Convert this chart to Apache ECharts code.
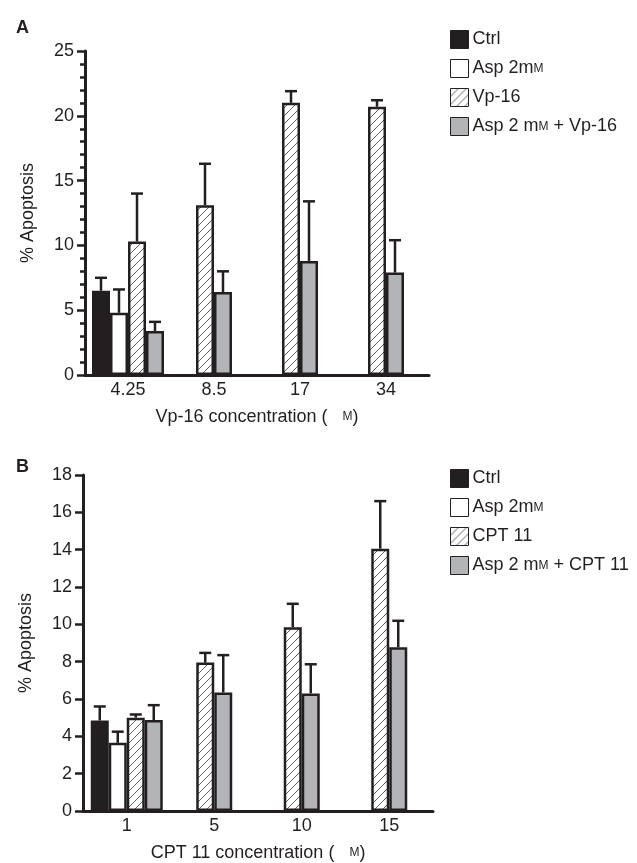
<!DOCTYPE html>
<html>
<head>
<meta charset="utf-8">
<script src="https://cdn.jsdelivr.net/npm/echarts@6/dist/echarts.min.js"></script>
<style>
  html, body { margin: 0; padding: 0; background: #fff; }
  #main { width: 637px; height: 863px; }
</style>
</head>
<body>
<div id="main"></div>
<script>
// panel A: Vp-16
const catsA = ['4.25', '8.5', '17', '34'];
const ctrlA = [6.5, null, null, null];
const ctrlErrA = [1.0, null, null, null];
const aspA = [4.8, null, null, null];
const aspErrA = [1.8, null, null, null];
const vpA = [10.3, 13.1, 21.0, 20.7];
const vpErrA = [3.7, 3.2, 0.9, 0.5];
const comboA = [3.4, 6.4, 8.8, 7.9];
const comboErrA = [0.7, 1.6, 4.6, 2.5];

// panel B: CPT 11
const catsB = ['1', '5', '10', '15'];
const ctrlB = [4.85, null, null, null];
const ctrlErrB = [0.75, null, null, null];
const aspB = [3.65, null, null, null];
const aspErrB = [0.6, null, null, null];
const cptB = [5.0, 7.95, 9.85, 14.05];
const cptErrB = [0.17, 0.52, 1.25, 2.55];
const comboB = [4.87, 6.35, 6.3, 8.77];
const comboErrB = [0.8, 2.0, 1.56, 1.42];

const ink = '#231f20';
const grey = '#b2b4b7';
const font = 'Liberation Sans, Arial, sans-serif';
const FS = 18;
const BW = 18;

// hatch fill
let hatch = document.createElement('canvas');
hatch.width = 8;
hatch.height = 8;
let hctx = hatch.getContext('2d');
hctx.fillStyle = '#fff';
hctx.fillRect(0, 0, 8, 8);
hctx.strokeStyle = '#3a3a3a';
hctx.lineWidth = 0.8;
[[-4, 4, 4, -4], [0, 8, 8, 0], [4, 12, 12, 4]].forEach(l => {
  hctx.beginPath();
  hctx.moveTo(l[0], l[1]);
  hctx.lineTo(l[2], l[3]);
  hctx.stroke();
});
const hatchFill = { image: hatch, repeat: 'repeat' };

function firstOnly(arr) { return arr.map((v, i) => i === 0 ? v : null); }
function restOnly(arr) { return arr.map((v, i) => i > 0 ? v : null); }

function bar(name, data, xi, yi, color) {
  return {
    name: name,
    type: 'bar',
    xAxisIndex: xi,
    yAxisIndex: yi,
    barWidth: BW,
    barGap: 0,
    data: data,
    itemStyle: { color: color, borderColor: ink, borderWidth: 2.5 },
    emphasis: { disabled: true },
    z: 2
  };
}

function err(vals, errs, xi, yi, offset) {
  let pts = [];
  vals.forEach((v, i) => {
    if (v != null) pts.push([i, v, errs[i]]);
  });
  return {
    type: 'custom',
    xAxisIndex: xi,
    yAxisIndex: yi,
    encode: { x: 0, y: 1 },
    z: 4,
    silent: true,
    data: pts,
    renderItem: function(params, api) {
      let i = api.value(0), m = api.value(1), e = api.value(2);
      let base = api.coord([i, m]);
      let top = api.coord([i, m + e]);
      let x = base[0] + offset;
      return {
        type: 'group',
        children: [
          { type: 'line', shape: { x1: x, y1: base[1], x2: x, y2: top[1] }, style: { stroke: ink, lineWidth: 2.5 } },
          { type: 'line', shape: { x1: x - 6, y1: top[1], x2: x + 6, y2: top[1] }, style: { stroke: ink, lineWidth: 2.5 } }
        ]
      };
    }
  };
}

function xAx(gi, cats, show, name, gap) {
  return {
    type: 'category',
    gridIndex: gi,
    data: cats,
    show: show,
    name: name,
    nameLocation: 'middle',
    nameGap: gap,
    nameTextStyle: { fontFamily: font, fontSize: FS, color: ink, rich: { s: { fontFamily: font, fontSize: 12, color: ink } } },
    axisLine: { lineStyle: { color: ink, width: 3 } },
    axisTick: { show: false },
    axisLabel: { fontFamily: font, fontSize: FS, color: ink, margin: 6 }
  };
}

function yAx(gi, max, step, minor) {
  return {
    type: 'value',
    gridIndex: gi,
    min: 0,
    max: max,
    interval: step,
    name: '% Apoptosis',
    nameLocation: 'middle',
    nameRotate: 90,
    nameGap: 48,
    nameTextStyle: { fontFamily: font, fontSize: FS, color: ink },
    axisLine: { show: true, lineStyle: { color: ink, width: 3 } },
    axisTick: { show: true, length: 8, lineStyle: { color: ink, width: 2.5 } },
    minorTick: { show: minor, splitNumber: 5, length: 5, lineStyle: { color: ink, width: 2.5 } },
    splitLine: { show: false },
    axisLabel: { fontFamily: font, fontSize: FS, color: ink, margin: 11 }
  };
}

function legendFmt(name) {
  return name.replace(/mM/g, 'm{s|M}');
}

function legend(top, names) {
  return {
    orient: 'vertical',
    left: 445,
    top: top,
    itemWidth: 18,
    itemHeight: 18,
    itemGap: 10,
    icon: 'rect',
    data: names,
    formatter: legendFmt,
    selectedMode: false,
    itemStyle: { borderColor: ink, borderWidth: 1 },
    textStyle: { fontFamily: font, fontSize: FS, lineHeight: 18, color: ink, padding: [0, 0, 0, -1],
      rich: { s: { fontFamily: font, fontSize: 12, lineHeight: 18, color: ink } } }
  };
}

let chart = echarts.init(document.getElementById('main'));
chart.setOption({
  animation: false,
  backgroundColor: '#fff',
  title: [
    { text: 'A', left: 11, top: 14, textStyle: { fontFamily: font, fontSize: 18, fontWeight: 'bold', color: ink } },
    { text: 'B', left: 11, top: 453, textStyle: { fontFamily: font, fontSize: 18, fontWeight: 'bold', color: ink } }
  ],
  legend: [
    legend(25, ['Ctrl', 'Asp 2mM', 'Vp-16', 'Asp 2 mM + Vp-16']),
    legend(464, ['Ctrl', 'Asp 2mM', 'CPT 11', 'Asp 2 mM + CPT 11'])
  ],
  grid: [
    { left: 85, top: 51, width: 344, height: 324, outerBoundsMode: 'none' },
    { left: 83, top: 475, width: 350, height: 336, outerBoundsMode: 'none' }
  ],
  xAxis: [
    xAx(0, catsA, true, 'Vp-16 concentration (   {s|M})', 33),
    xAx(0, catsA, false, '', 0),
    xAx(1, catsB, true, 'CPT 11 concentration (   {s|M})', 33),
    xAx(1, catsB, false, '', 0)
  ],
  yAxis: [
    yAx(0, 25, 5, true),
    yAx(1, 18, 2, false)
  ],
  series: [
    // A, first group has all four bars
    bar('Ctrl', ctrlA, 0, 0, ink),
    bar('Asp 2mM', aspA, 0, 0, '#fff'),
    bar('Vp-16', firstOnly(vpA), 0, 0, hatchFill),
    bar('Asp 2 mM + Vp-16', firstOnly(comboA), 0, 0, grey),
    // A, other groups only two bars
    bar('Vp-16', restOnly(vpA), 1, 0, hatchFill),
    bar('Asp 2 mM + Vp-16', restOnly(comboA), 1, 0, grey),
    err(ctrlA, ctrlErrA, 0, 0, -1.5 * BW),
    err(aspA, aspErrA, 0, 0, -0.5 * BW),
    err(firstOnly(vpA), vpErrA, 0, 0, 0.5 * BW),
    err(firstOnly(comboA), comboErrA, 0, 0, 1.5 * BW),
    err(restOnly(vpA), vpErrA, 1, 0, -0.5 * BW),
    err(restOnly(comboA), comboErrA, 1, 0, 0.5 * BW),

    // B
    bar('Ctrl', ctrlB, 2, 1, ink),
    bar('Asp 2mM', aspB, 2, 1, '#fff'),
    bar('CPT 11', firstOnly(cptB), 2, 1, hatchFill),
    bar('Asp 2 mM + CPT 11', firstOnly(comboB), 2, 1, grey),
    bar('CPT 11', restOnly(cptB), 3, 1, hatchFill),
    bar('Asp 2 mM + CPT 11', restOnly(comboB), 3, 1, grey),
    err(ctrlB, ctrlErrB, 2, 1, -1.5 * BW),
    err(aspB, aspErrB, 2, 1, -0.5 * BW),
    err(firstOnly(cptB), cptErrB, 2, 1, 0.5 * BW),
    err(firstOnly(comboB), comboErrB, 2, 1, 1.5 * BW),
    err(restOnly(cptB), cptErrB, 3, 1, -0.5 * BW),
    err(restOnly(comboB), comboErrB, 3, 1, 0.5 * BW)
  ]
});
</script>
</body>
</html>
